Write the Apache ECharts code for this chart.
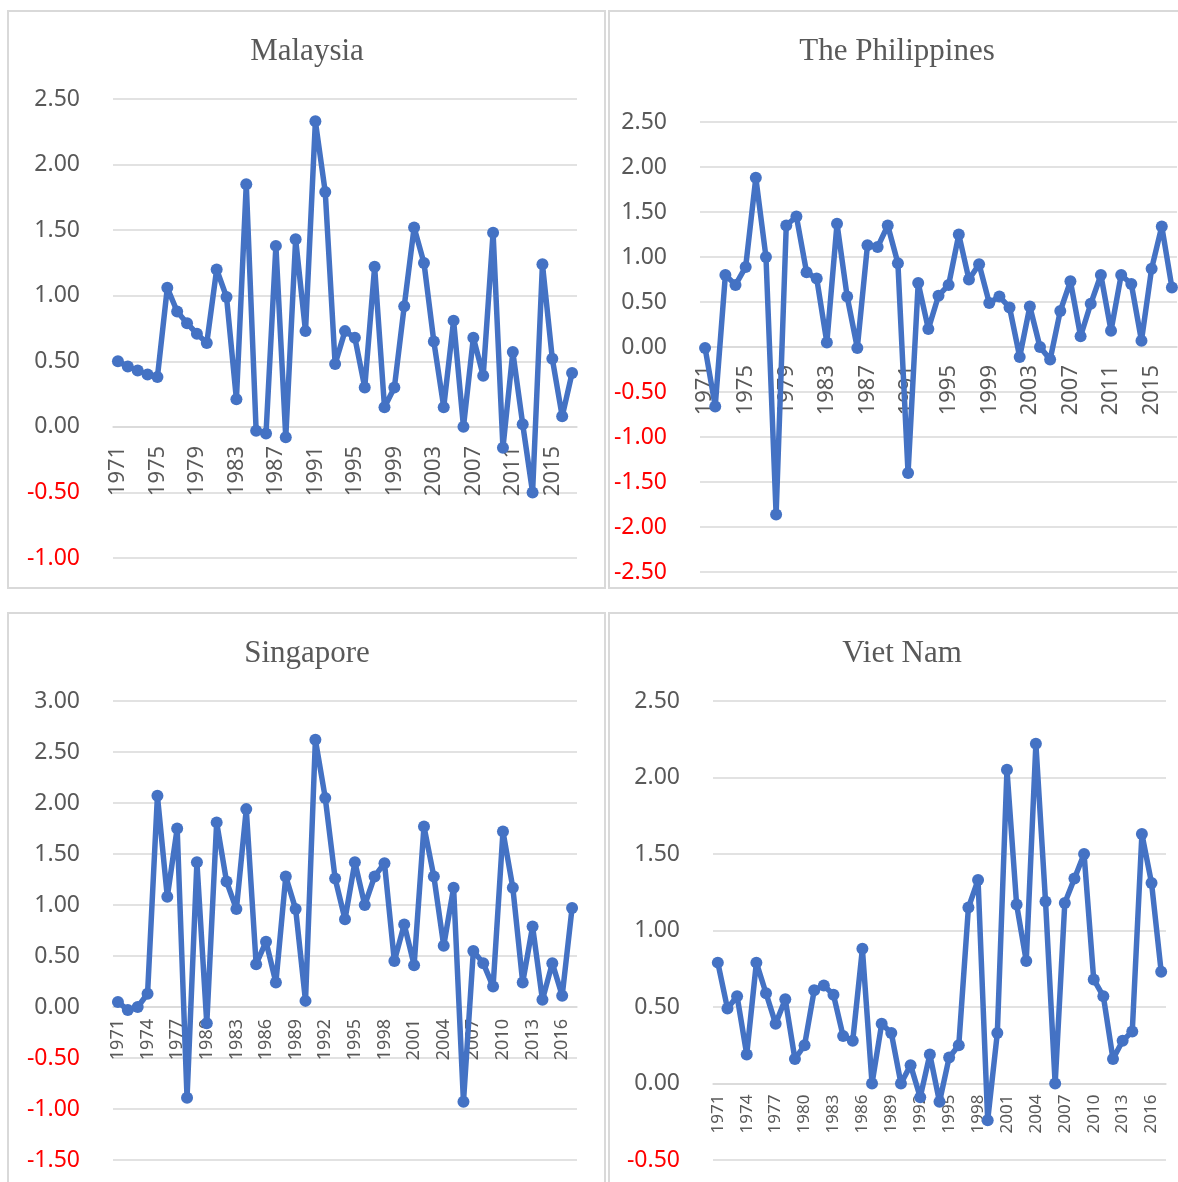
<!DOCTYPE html>
<html>
<head>
<meta charset="utf-8">
<script src="https://cdn.jsdelivr.net/npm/echarts@6/dist/echarts.min.js"></script>
<style>
html,body{margin:0;padding:0;background:#fff;}
#c{width:1178px;height:1182px;}
</style>
</head>
<body>
<div id="c"></div>
<script>
const years = ['1971','1972','1973','1974','1975','1976','1977','1978','1979','1980','1981','1982','1983','1984','1985','1986','1987','1988','1989','1990','1991','1992','1993','1994','1995','1996','1997','1998','1999','2000','2001','2002','2003','2004','2005','2006','2007','2008','2009','2010','2011','2012','2013','2014','2015','2016','2017'];

const malaysia = [0.50,0.46,0.43,0.40,0.38,1.06,0.88,0.79,0.71,0.64,1.20,0.99,0.21,1.85,-0.03,-0.05,1.38,-0.08,1.43,0.73,2.33,1.79,0.48,0.73,0.68,0.30,1.22,0.15,0.30,0.92,1.52,1.25,0.65,0.15,0.81,0.00,0.68,0.39,1.48,-0.16,0.57,0.02,-0.50,1.24,0.52,0.08,0.41];
const philippines = [-0.01,-0.66,0.80,0.69,0.89,1.88,1.00,-1.86,1.35,1.45,0.83,0.76,0.05,1.37,0.56,-0.01,1.13,1.11,1.35,0.93,-1.40,0.71,0.20,0.57,0.69,1.25,0.75,0.92,0.49,0.56,0.44,-0.11,0.45,0.00,-0.14,0.40,0.73,0.12,0.48,0.80,0.18,0.80,0.70,0.07,0.87,1.34,0.66];
const singapore = [0.05,-0.03,0.00,0.13,2.07,1.08,1.75,-0.89,1.42,-0.16,1.81,1.23,0.96,1.94,0.42,0.64,0.24,1.28,0.96,0.06,2.62,2.05,1.26,0.86,1.42,1.00,1.28,1.41,0.45,0.81,0.41,1.77,1.28,0.60,1.17,-0.93,0.55,0.43,0.20,1.72,1.17,0.24,0.79,0.07,0.43,0.11,0.97];
const vietnam = [0.79,0.49,0.57,0.19,0.79,0.59,0.39,0.55,0.16,0.25,0.61,0.64,0.58,0.31,0.28,0.88,0.00,0.39,0.33,0.00,0.12,-0.09,0.19,-0.12,0.17,0.25,1.15,1.33,-0.24,0.33,2.05,1.17,0.80,2.22,1.19,0.00,1.18,1.34,1.50,0.68,0.57,0.16,0.28,0.34,1.63,1.31,0.73];

const titles = ['Malaysia','The Philippines','Singapore','Viet Nam'];
const yMin = [-1, -2.5, -1.5, -0.5];
const yMax = [2.5, 2.5, 3, 2.5];
const labelEvery = [3, 3, 2, 2];

const seriesData = [malaysia, philippines, singapore, vietnam];

const BLUE = '#4472C4';
const GRID_C = '#d9d9d9';
const TXT = '#595959';

const grids = [
  {left:113, top:99, width:464, height:459},
  {left:700, top:122, width:477, height:450},
  {left:113, top:701, width:464, height:459},
  {left:713, top:701, width:453, height:459}
];
const titlePos = [[302,31],[892,31],[302,633],[897,633]];
const xLabelSize = [22,22,18,17];
const xLabelMargin = [19,18,12,11];

function yFmt(v){
  const s = v.toFixed(2);
  return v < 0 ? '{n|' + s + '}' : '{p|' + s + '}';
}

// place the category axis on the zero line of its value axis
function zeroOffset(i){
  return -grids[i].height * (0 - yMin[i]) / (yMax[i] - yMin[i]);
}

const option = {
  backgroundColor:'#fff',
  animation:false,
  title: titles.map((t,i)=>({
    text:t, left:titlePos[i][0], top:titlePos[i][1], textAlign:'center',
    textStyle:{fontFamily:'Liberation Serif', fontWeight:'normal', fontSize:31, color:TXT}
  })),
  grid: grids,
  xAxis: grids.map((g,i)=>({
    type:'category', gridIndex:i, data:years, boundaryGap:true,
    position:'bottom', offset: zeroOffset(i),
    axisLine:{show:true, onZero:false, lineStyle:{color:GRID_C, width:1.5}},
    axisTick:{show:false},
    splitLine:{show:false},
    axisLabel:{rotate:90, interval:labelEvery[i], color:TXT, fontFamily:'Noto Sans', fontSize:xLabelSize[i], margin:xLabelMargin[i]}
  })),
  yAxis: grids.map((g,i)=>({
    type:'value', gridIndex:i, min:yMin[i], max:yMax[i], interval:0.5,
    axisLine:{show:false}, axisTick:{show:false},
    splitLine:{show:true, lineStyle:{color:GRID_C, width:1.5}},
    axisLabel:{margin:33, formatter:yFmt,
      rich:{
        p:{color:TXT, fontFamily:'Noto Sans', fontSize:23},
        n:{color:'#ff0000', fontFamily:'Noto Sans', fontSize:23}
      }}
  })),
  series: seriesData.map((d,i)=>({
    type:'line', xAxisIndex:i, yAxisIndex:i, data:d,
    symbol:'circle', symbolSize:12, showAllSymbol:true,
    lineStyle:{color:BLUE, width:5.5},
    itemStyle:{color:BLUE},
    z:5
  })),
  graphic: [
    {type:'rect', shape:{x:8, y:11, width:597, height:577}, style:{fill:'none', stroke:GRID_C, lineWidth:2}, silent:true, z:-10},
    {type:'rect', shape:{x:609, y:11, width:620, height:577}, style:{fill:'none', stroke:GRID_C, lineWidth:2}, silent:true, z:-10},
    {type:'rect', shape:{x:8, y:613, width:597, height:620}, style:{fill:'none', stroke:GRID_C, lineWidth:2}, silent:true, z:-10},
    {type:'rect', shape:{x:609, y:613, width:620, height:620}, style:{fill:'none', stroke:GRID_C, lineWidth:2}, silent:true, z:-10}
  ]
};

const chart = echarts.init(document.getElementById('c'), null, {renderer:'canvas'});
chart.setOption(option);
</script>
</body>
</html>
